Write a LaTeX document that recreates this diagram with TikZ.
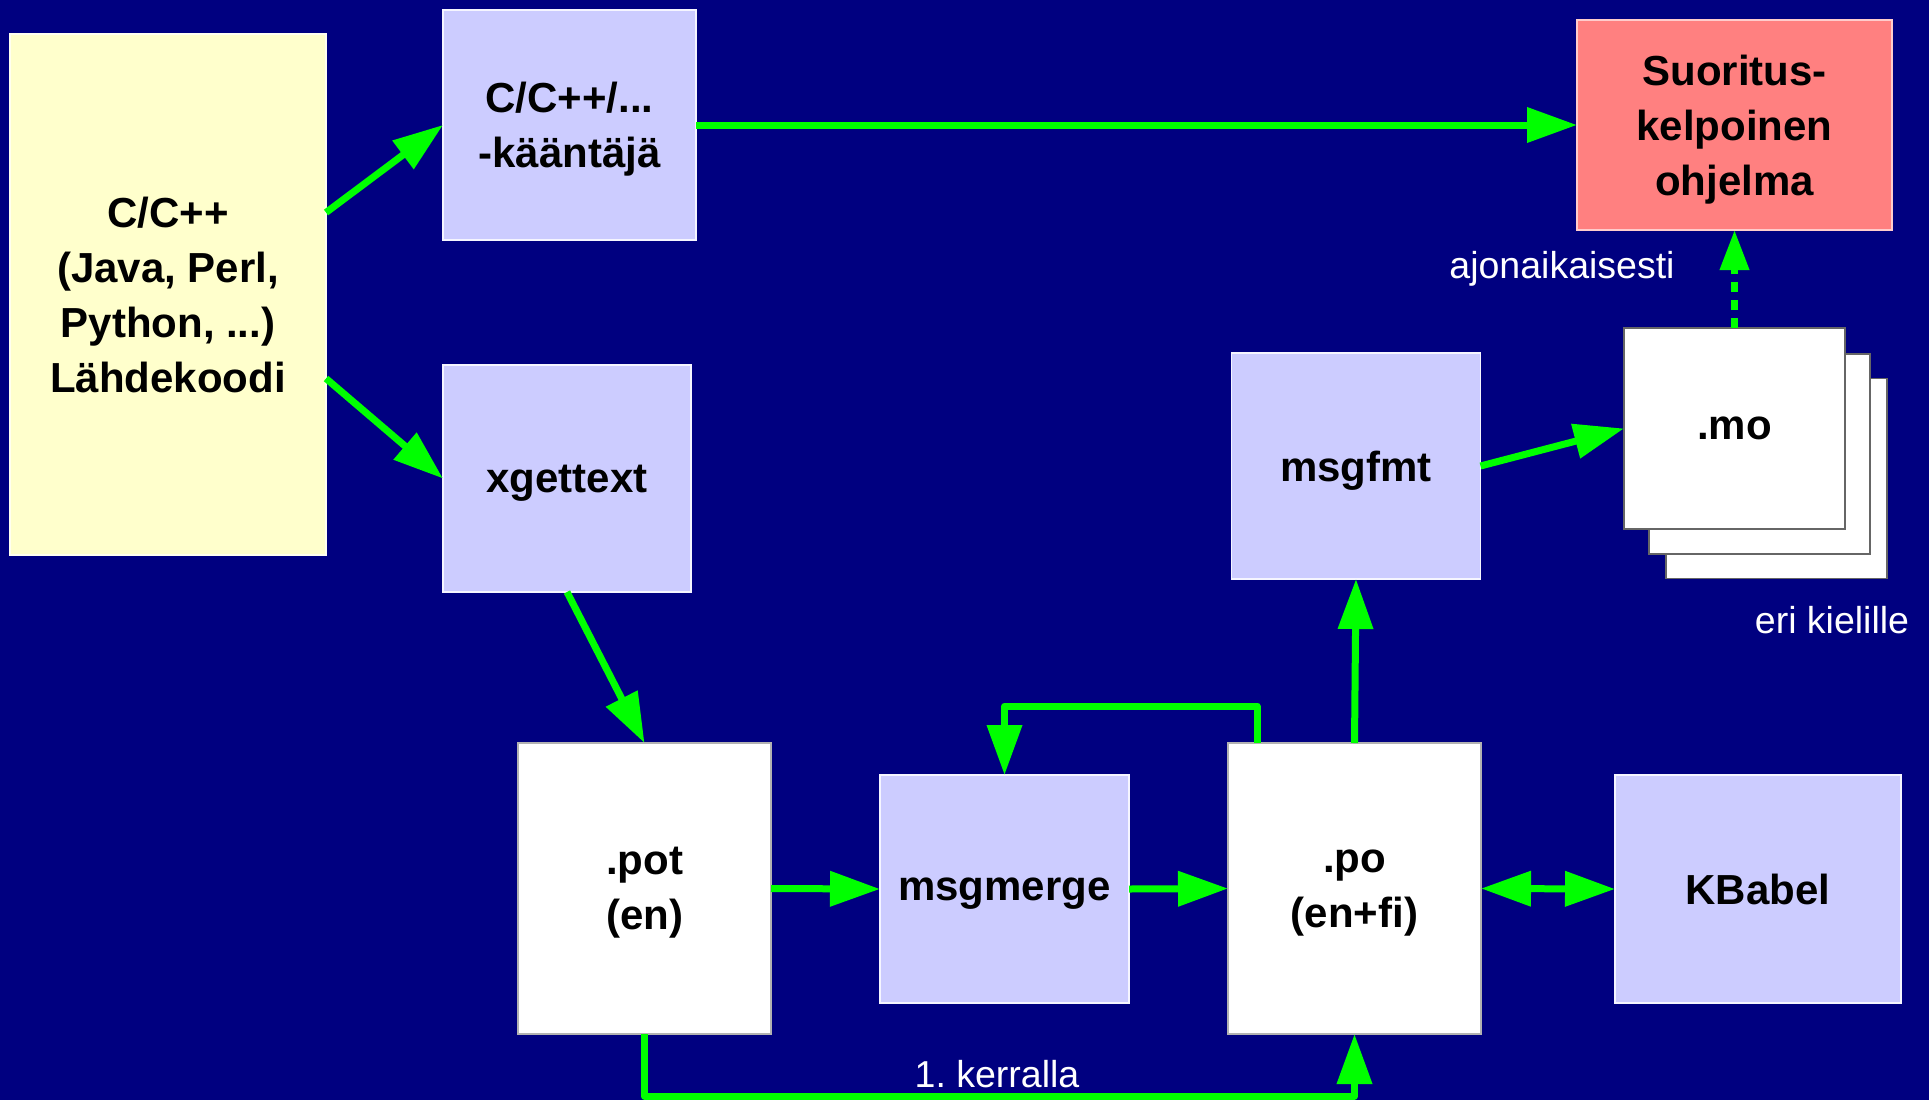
\documentclass[tikz,border=0pt]{standalone}
\usepackage{fontspec}
\setmainfont{Liberation Sans}
\usetikzlibrary{arrows.meta,calc}
\definecolor{navy}{HTML}{000080}
\definecolor{lav}{HTML}{CCCCFF}
\definecolor{cream}{HTML}{FFFFCC}
\definecolor{salmon}{HTML}{FF8080}
\definecolor{lime}{HTML}{00FF00}

\begin{document}
\begin{tikzpicture}[x=1pt,y=-1pt,
  box/.style={rectangle, inner sep=0pt, outer sep=0pt, align=center, text depth=0pt,
    font=\fontsize{42}{55}\selectfont\bfseries, text=black, line width=1.5pt},
  tool/.style={box, fill=lav, draw=white!80!lav},
  file/.style={box, fill=white, draw=black!30},
  sheet/.style={box, fill=white, draw=black!60},
  tipA/.style={-{Triangle[length=50pt,width=34pt]}},
  flow/.style={draw=lime, line width=7pt, line join=round, tipA},
  note/.style={text=white, font=\fontsize{37.5}{40}\selectfont}]

% background and page size
\fill[navy] (0,0) rectangle (1929,1100);
\useasboundingbox (0,0) rectangle (1929,1100);

% boxes
\node[box, fill=cream, draw=white!70!cream, minimum width=316pt, minimum height=521pt]
  (src) at (168,294.5) {C/C++\\(Java, Perl,\\Python, ...)\\Lähdekoodi};
\node[tool, minimum width=253pt, minimum height=230pt]
  (comp) at (569.5,125) {C/C++/...\\-kääntäjä};
\node[tool, minimum width=248pt, minimum height=227pt]
  (xg) at (567,478.5) {xgettext};
\node[box, fill=salmon, draw=white!60!salmon, minimum width=315pt, minimum height=210pt]
  (exe) at (1734.5,125) {Suoritus-\\kelpoinen\\ohjelma};
\node[tool, minimum width=249pt, minimum height=226pt]
  (fmt) at (1356,466) {msgfmt};

% stack of .mo files, back to front
\node[sheet, minimum width=221pt, minimum height=200pt] (mo3) at (1776.5,478.5) {};
\node[sheet, minimum width=221pt, minimum height=200pt] (mo2) at (1759.5,454) {};
\node[sheet, minimum width=221pt, minimum height=201pt] (mo1) at (1734.5,428.5) {.mo};

\node[file, minimum width=253pt, minimum height=291pt]
  (pot) at (644.5,888.5) {.pot\\(en)};
\node[tool, minimum width=249pt, minimum height=228pt]
  (merge) at (1004.5,889) {msgmerge};
\node[file, minimum width=253pt, minimum height=291pt]
  (po) at (1354.5,888.5) {.po\\(en+fi)};
\node[tool, minimum width=286pt, minimum height=228pt]
  (kb) at (1758,889) {KBabel};

% labels
\node[note] (lrun) at (1562,269) {ajonaikaisesti};
\node[note] (llang) at (1832,620) {eri kielille};
\node[note] (lfirst) at (997,1074) {1.\ kerralla};

% connectors
\draw[flow] ([yshift=82pt]src.east) -- (comp.west);
\draw[flow] ([yshift=-84pt]src.east) -- (xg.west);
\draw[flow] (comp.east) -- (exe.west);
\draw[flow] (xg.south) -- (pot.north);
\draw[flow] (pot.east) -- (merge.west);
\draw[flow] (merge.east) -- (po.west);
\draw[flow, {Triangle[length=50pt,width=34pt]}-{Triangle[length=50pt,width=34pt]}]
  (po.east) -- (kb.west);
\draw[flow] (po.north) -- (fmt.south);
\draw[flow] (fmt.east) -- (mo1.west);
\draw[flow, dash pattern=on 10pt off 8pt, -{Triangle[length=40pt,width=28pt]}]
  (mo1.north) -- (exe.south);
\draw[flow] ([xshift=-97.5pt]po.north) -- ++(0,-37) -| (merge.north);
\draw[flow] (pot.south) -- ++(0,62) -| (po.south);
\end{tikzpicture}
\end{document}
